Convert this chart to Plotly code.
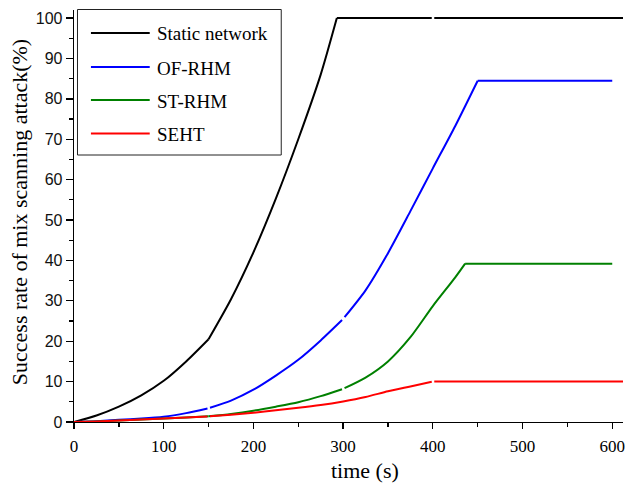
import plotly.graph_objects as go

# ---- data ----
static_x = [0, 25, 50, 75, 100, 125, 150, 175, 200, 225, 250, 275, 293, 400, 612]
static_y = [0, 1.6, 3.8, 6.6, 10.2, 15.0, 20.5, 30.4, 42, 55.3, 70, 86, 100, 100, 100]

ofrhm_x = [0, 25, 50, 75, 100, 125, 150, 175, 200, 225, 250, 275, 300, 325, 350, 375, 400, 425, 450, 600]
ofrhm_y = [0, 0.2, 0.55, 0.85, 1.3, 2.2, 3.4, 5.3, 8.0, 11.5, 15.4, 20.2, 25.5, 32.6, 41.8, 52.2, 62.8, 73.3, 84.5, 84.5]

strhm_x = [0, 25, 50, 75, 100, 125, 150, 175, 200, 225, 250, 275, 300, 325, 350, 375, 400, 425, 436, 600]
strhm_y = [0, 0.15, 0.4, 0.6, 0.85, 1.1, 1.4, 2.0, 2.8, 3.8, 4.9, 6.4, 8.2, 11.0, 15.0, 21.0, 28.7, 35.8, 39.2, 39.2]

seht_x = [0, 25, 50, 75, 100, 125, 150, 175, 200, 225, 250, 275, 300, 325, 350, 375, 400, 612]
seht_y = [0, 0.15, 0.4, 0.6, 0.85, 1.1, 1.4, 1.8, 2.3, 2.9, 3.5, 4.2, 5.1, 6.2, 7.6, 8.8, 10.0, 10.0]

series_names = ["Static network", "OF-RHM", "ST-RHM", "SEHT"]
series_colors = ["#000000", "#0000FF", "#008000", "#FF0000"]
# x values where the curve changes piece (kinks / corners)
series_breaks = [[150, 293, 400], [150, 300, 450], [150, 300, 436], [150, 400]]
# of those, the places where the original drawing shows a small break
series_gaps = [[400], [150, 300], [300], [150, 400]]

x_ticks = [0, 100, 200, 300, 400, 500, 600]
y_ticks = [0, 10, 20, 30, 40, 50, 60, 70, 80, 90, 100]

X_RANGE = [0, 612]
Y_RANGE = [0, 102]

W, H = 628, 484
ML, MR, MT, MB = 74, 3, 10, 62
PW, PH = W - ML - MR, H - MT - MB


def interp(xs, ys, x):
    for i in range(len(xs) - 1):
        if xs[i] <= x <= xs[i + 1]:
            t = (x - xs[i]) / (xs[i + 1] - xs[i]) if xs[i + 1] != xs[i] else 0
            return ys[i] + t * (ys[i + 1] - ys[i])
    return ys[-1]


def pieces(xs, ys, breaks, gaps, lo=1.2, hi=1.6):
    bounds = [xs[0]] + list(breaks) + [xs[-1]]
    out = []
    for i in range(len(bounds) - 1):
        a, b = bounds[i], bounds[i + 1]
        px = [x for x in xs if a <= x <= b]
        py = [interp(xs, ys, x) for x in px]
        if a in gaps:
            px[0] = a + hi
            py[0] = interp(xs, ys, px[0])
        if b in gaps:
            px[-1] = b - lo
            py[-1] = interp(xs, ys, px[-1])
        out.append((px, py))
    return out


def px_x(px):
    return (px - ML) / PW


def px_y(py):
    return (H - MB - py) / PH


fig = go.Figure()
all_x = [static_x, ofrhm_x, strhm_x, seht_x]
all_y = [static_y, ofrhm_y, strhm_y, seht_y]
for name, xs, ys, col, brk, gaps in zip(series_names, all_x, all_y, series_colors,
                                       series_breaks, series_gaps):
    for k, (sx, sy) in enumerate(pieces(xs, ys, brk, gaps)):
        fig.add_trace(go.Scatter(x=sx, y=sy, mode="lines", name=name,
                                 line=dict(color=col, width=2, shape="spline", smoothing=0.7),
                                 showlegend=False, hoverinfo="skip"))

shapes = []
annotations = []
# legend box
shapes.append(dict(type="rect", xref="paper", yref="paper",
                   x0=px_x(77.5), x1=px_x(282), y0=px_y(155), y1=px_y(9.5),
                   line=dict(color="#222222", width=1), fillcolor="rgba(255,255,255,0)"))
leg_y = [33, 67, 100, 133.5]
for name, col, ly in zip(series_names, series_colors, leg_y):
    shapes.append(dict(type="line", xref="paper", yref="paper",
                       x0=px_x(91), x1=px_x(150), y0=px_y(ly), y1=px_y(ly),
                       line=dict(color=col, width=2)))
    annotations.append(dict(xref="paper", yref="paper", x=px_x(155), y=px_y(ly + 1),
                            text=name, showarrow=False, xanchor="left", yanchor="middle",
                            font=dict(family="Liberation Serif", size=19, color="black")))

# axis titles
annotations.append(dict(xref="paper", yref="paper", x=px_x(19), y=px_y(212),
                        text="Success rate of mix scanning attack(%)", textangle=-90,
                        showarrow=False, xanchor="center", yanchor="middle",
                        font=dict(family="Liberation Serif", size=22, color="black")))
annotations.append(dict(xref="paper", yref="paper", x=px_x(366.5), y=px_y(470),
                        text="time (s)", showarrow=False, xanchor="center", yanchor="middle",
                        font=dict(family="Liberation Serif", size=22, color="black")))

fig.update_layout(
    width=W, height=H,
    margin=dict(l=ML, r=MR, t=MT, b=MB, pad=0),
    plot_bgcolor="white", paper_bgcolor="white",
    shapes=shapes, annotations=annotations,
    showlegend=False,
)
fig.update_xaxes(range=X_RANGE, tickvals=x_ticks, ticktext=[str(v) for v in x_ticks],
                 showgrid=False, zeroline=False, showline=True, linecolor="black", linewidth=1.3,
                 ticks="outside", ticklen=6, tickwidth=1.3, tickcolor="black",
                 ticklabelstandoff=2,
                 tickfont=dict(family="Liberation Serif", size=17, color="black"),
                 minor=dict(dtick=50, tick0=0, ticks="outside", ticklen=4, tickwidth=1.3,
                            tickcolor="black", showgrid=False))
fig.update_yaxes(range=Y_RANGE, tickvals=y_ticks, ticktext=[str(v) for v in y_ticks],
                 showgrid=False, zeroline=False, showline=True, linecolor="black", linewidth=1.3,
                 ticks="outside", ticklen=7, tickwidth=1.3, tickcolor="black",
                 tickfont=dict(family="Liberation Sans", size=16, color="#111111"),
                 minor=dict(dtick=5, tick0=0, ticks="outside", ticklen=4, tickwidth=1.3,
                            tickcolor="black", showgrid=False))

fig.write_html(
    "out.html",
    config={"displayModeBar": False, "staticPlot": True},
    post_script="document.body.style.margin='0';"
                "document.documentElement.style.overflow='hidden';"
                "document.body.style.overflow='hidden';",
)
